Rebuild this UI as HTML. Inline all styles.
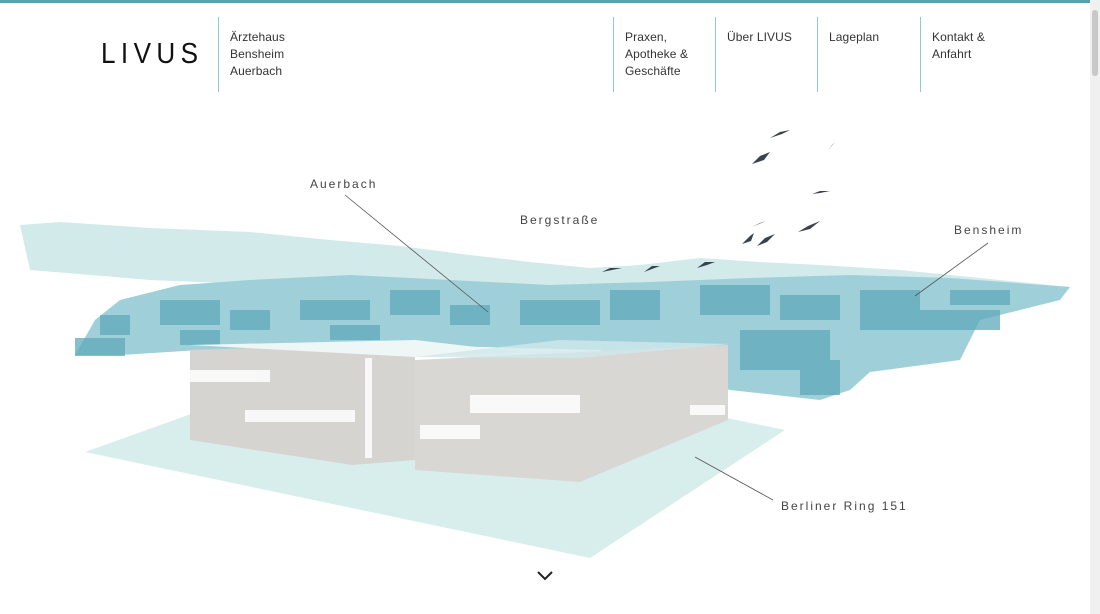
<!DOCTYPE html>
<html><head><meta charset="utf-8"><style>
html,body{margin:0;padding:0;width:1100px;height:614px;overflow:hidden;background:#fff;font-family:"Liberation Sans",sans-serif}
.top{position:absolute;left:0;top:0;width:1090px;height:3px;background:#5b9fb1}
.sb{position:absolute;left:1090px;top:0;width:10px;height:614px;background:#f0f0f0}
.sb div{position:absolute;left:2px;top:10px;width:6px;height:66px;background:#c8c8c8;border-radius:3px}
.logo{position:absolute;left:101px;top:38px;font-family:"Liberation Sans",sans-serif;font-size:29px;letter-spacing:6px;color:#111;transform:scaleX(.9);transform-origin:left}
.nav{position:absolute;top:17px;height:75px;border-left:1px solid #8ccad6;padding-left:11px;padding-top:12px;font-size:12px;line-height:17px;color:#333;letter-spacing:.1px;box-sizing:border-box}
.lbl{position:absolute;font-size:12px;letter-spacing:2px;color:#444}
svg{position:absolute;left:0;top:0}
</style></head><body>
<div class="top"></div>
<div class="sb"><div></div></div>
<div class="logo">LIVUS</div>
<div class="nav" style="left:218px">Ärztehaus<br>Bensheim<br>Auerbach</div>
<div class="nav" style="left:613px">Praxen,<br>Apotheke &amp;<br>Geschäfte</div>
<div class="nav" style="left:715px">Über LIVUS</div>
<div class="nav" style="left:817px">Lageplan</div>
<div class="nav" style="left:920px">Kontakt &amp;<br>Anfahrt</div>
<svg width="1090" height="614" viewBox="0 0 1090 614">
<polygon points="20,225 60,222 150,228 250,232 330,240 400,246 470,255 530,262 590,268 640,265 700,258 760,262 820,265 900,270 980,278 1070,287 1000,295 700,300 400,290 150,280 30,270" fill="#d2eaea"/>
<polygon points="75,355 95,320 120,300 180,285 250,280 350,275 450,280 550,285 650,282 750,278 850,275 950,278 1070,287 1060,300 980,320 960,360 870,372 850,390 820,400 730,390 600,350 400,345 200,350 120,355" fill="#9fd0da"/>
<g fill="#5fa9ba" opacity=".75">
<rect x="75" y="338" width="50" height="18"/><rect x="100" y="315" width="30" height="20"/><rect x="160" y="300" width="60" height="25"/><rect x="230" y="310" width="40" height="20"/><rect x="300" y="300" width="70" height="20"/><rect x="390" y="290" width="50" height="25"/><rect x="450" y="305" width="40" height="20"/><rect x="520" y="300" width="80" height="25"/><rect x="610" y="290" width="50" height="30"/><rect x="700" y="285" width="70" height="30"/><rect x="780" y="295" width="60" height="25"/><rect x="860" y="290" width="60" height="40"/><rect x="740" y="330" width="90" height="40"/><rect x="900" y="310" width="100" height="20"/><rect x="800" y="360" width="40" height="35"/><rect x="950" y="290" width="60" height="15"/><rect x="180" y="330" width="40" height="15"/><rect x="330" y="325" width="50" height="15"/>
</g>
<polygon points="85,452 230,400 640,400 785,430 590,558" fill="#d8eeec"/>
<polygon points="190,350 415,343 415,460 352,465 190,440" fill="#d6d4d0"/>
<polygon points="415,360 728,345 728,420 580,482 415,470" fill="#d9d7d4"/>
<polygon points="190,345 415,340 520,352 415,357" fill="#eef6f6"/>
<polygon points="415,357 560,340 730,344 580,358" fill="#cfe7ea" opacity=".8"/>
<g fill="#fff" opacity=".85">
<rect x="190" y="370" width="80" height="12"/><rect x="245" y="410" width="110" height="12"/><rect x="365" y="358" width="7" height="100"/><rect x="470" y="395" width="110" height="18"/><rect x="420" y="425" width="60" height="14"/><rect x="690" y="405" width="35" height="10"/>
</g>
<g stroke="#555" stroke-width=".8">
<line x1="345" y1="195" x2="488" y2="312"/><line x1="988" y1="243" x2="915" y2="296"/><line x1="695" y1="457" x2="773" y2="500"/>
</g>
<g fill="#3a4250">
<path d="M770 138 l10 -6 l10 -2 l-8 4 z"/><path d="M752 164 l8 -8 l10 -4 l-6 8 z"/><path d="M828 150 l4 -5 l3 -3z"/><path d="M812 194 l8 -3 l10 0 l-10 2z"/><path d="M798 232 l10 -6 l12 -5 l-10 8z"/><path d="M742 244 l8 -8 l4 -3 l-3 8z"/><path d="M757 246 l8 -8 l10 -4 l-8 8z"/><path d="M752 227 l8 -4 l6 -2z"/><path d="M602 272 l8 -4 l12 0 l-10 2z"/><path d="M644 272 l8 -6 l8 0z"/><path d="M697 268 l8 -6 l10 0 l-8 3z"/><path d="M725 290 l6 -3 l6 -3z"/>
</g>
<polyline points="538,572 545,579 552,572" fill="none" stroke="#222" stroke-width="2"/>
</svg>
<div class="lbl" style="left:310px;top:177px">Auerbach</div>
<div class="lbl" style="left:520px;top:213px">Bergstraße</div>
<div class="lbl" style="left:954px;top:223px">Bensheim</div>
<div class="lbl" style="left:781px;top:499px">Berliner Ring 151</div>
</body></html>
